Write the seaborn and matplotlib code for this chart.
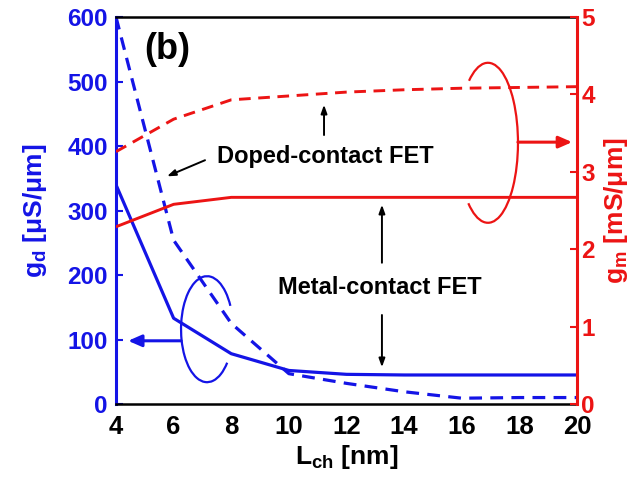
import numpy as np
import pandas as pd
import seaborn as sns
import matplotlib
matplotlib.use("Agg")
import matplotlib.pyplot as plt
from matplotlib.patches import Arc
import matplotlib.transforms as mtransforms

# Channel length [nm]
L_ch = [4, 6, 8, 10, 12, 14, 16, 18, 20]

# Output conductance g_d [uS/um]
gd_metal = [340, 133, 78, 52, 46, 45, 45, 45, 45]
gd_doped = [600, 254, 125, 47, 32, 19, 9, 10, 10]

# Transconductance g_m [mS/um]
gm_metal = [2.29, 2.58, 2.67, 2.67, 2.67, 2.67, 2.67, 2.67, 2.67]
gm_doped = [3.26, 3.68, 3.93, 3.98, 4.03, 4.06, 4.08, 4.09, 4.10]

x_ticks = [4, 6, 8, 10, 12, 14, 16, 18, 20]
gd_ticks = [0, 100, 200, 300, 400, 500, 600]
gm_ticks = [0, 1, 2, 3, 4, 5]

BLUE = "#1414e6"
RED = "#ec1414"

sns.set_style("white")
plt.rcParams["font.family"] = ["Liberation Sans", "DejaVu Sans"]
plt.rcParams["font.weight"] = "bold"
plt.rcParams["text.color"] = "black"
plt.rcParams["axes.labelcolor"] = "black"
plt.rcParams["mathtext.fontset"] = "custom"
plt.rcParams["mathtext.rm"] = "Liberation Sans:bold"
plt.rcParams["mathtext.bf"] = "Liberation Sans:bold"
plt.rcParams["mathtext.it"] = "Liberation Sans:bold"

df = pd.DataFrame({"L": L_ch, "gd_m": gd_metal, "gd_d": gd_doped,
                   "gm_m": gm_metal, "gm_d": gm_doped})

fig = plt.figure(figsize=(6.38, 4.78), dpi=100)
ax = fig.add_axes([0.1818, 0.1548, 0.7226, 0.8096])
ax2 = ax.twinx()

dash = (0, (4, 2.6))
sns.lineplot(data=df, x="L", y="gd_m", ax=ax, color=BLUE, lw=2.3)
sns.lineplot(data=df, x="L", y="gd_d", ax=ax, color=BLUE, lw=2.3, linestyle=dash)
sns.lineplot(data=df, x="L", y="gm_m", ax=ax2, color=RED, lw=2.1)
sns.lineplot(data=df, x="L", y="gm_d", ax=ax2, color=RED, lw=2.1, linestyle=dash)

ax.set_xlim(4, 20)
ax.set_ylim(0, 600)
ax2.set_ylim(0, 5)
ax.set_xticks(x_ticks)
ax.set_yticks(gd_ticks)
ax2.set_yticks(gm_ticks)

# spines
for a in (ax, ax2):
    for s in a.spines.values():
        s.set_linewidth(1.8)
ax.spines["left"].set_color(BLUE)
ax.spines["left"].set_linewidth(2.2)
ax.spines["top"].set_color("black")
ax.spines["bottom"].set_color("black")
ax.spines["right"].set_visible(False)
ax2.spines["left"].set_visible(False)
ax2.spines["top"].set_visible(False)
ax2.spines["bottom"].set_visible(False)
ax2.spines["right"].set_color(RED)
ax2.spines["right"].set_linewidth(2.2)

ax.tick_params(axis="x", direction="in", length=5, width=1.5, colors="black",
               labelsize=18.5, pad=8)
ax.tick_params(axis="y", direction="in", length=5, width=1.5, colors=BLUE,
               labelsize=17.5, pad=6)
ax2.tick_params(axis="y", direction="in", length=5, width=1.5, colors=RED,
                labelsize=17.5, pad=3)
for lab in ax.get_xticklabels() + ax.get_yticklabels() + ax2.get_yticklabels():
    lab.set_fontweight("bold")

ax.set_xlabel(r"$\mathbf{L_{ch}}$ [nm]", fontsize=19, fontweight="bold",
              color="black", labelpad=3)
ax.set_ylabel(r"$\mathbf{g_d}$ [μS/μm]", fontsize=19, fontweight="bold",
              color=BLUE, labelpad=13)
ax2.set_ylabel(r"$\mathbf{g_m}$ [mS/μm]", fontsize=19, fontweight="bold",
               color=RED, labelpad=5, rotation=90)

# panel tag
ax.text(5.77, 549, "(b)", fontsize=26, fontweight="bold", ha="center",
        va="center", color="black")

# curve annotations
ax.text(11.25, 383, "Doped-contact FET", fontsize=17, fontweight="bold",
        ha="center", va="center", color="black")
ax.text(13.16, 181, "Metal-contact FET", fontsize=17, fontweight="bold",
        ha="center", va="center", color="black")

thin = dict(arrowstyle="-|>,head_length=0.5,head_width=0.18", color="black",
            lw=1.4, shrinkA=0, shrinkB=0)
ax.annotate("", xy=(5.77, 353), xytext=(7.09, 378), arrowprops=thin)
ax.annotate("", xy=(11.22, 464), xytext=(11.22, 417), arrowprops=thin)
ax.annotate("", xy=(13.23, 309), xytext=(13.23, 219), arrowprops=thin)
ax.annotate("", xy=(13.23, 57), xytext=(13.23, 138), arrowprops=thin)

# axis-pointer arrows
ax.annotate("", xy=(4.42, 98), xytext=(6.26, 98),
            arrowprops=dict(arrowstyle="-|>,head_length=0.8,head_width=0.35",
                            color=BLUE, lw=2.2, shrinkA=0, shrinkB=0))
ax.annotate("", xy=(19.83, 406), xytext=(17.95, 406),
            arrowprops=dict(arrowstyle="-|>,head_length=0.8,head_width=0.35",
                            color=RED, lw=2.2, shrinkA=0, shrinkB=0))

# ellipses grouping each family of curves (sized in inches, centred in data units)
blue_tr = fig.dpi_scale_trans + mtransforms.ScaledTranslation(7.16, 116, ax.transData)
ax.add_patch(Arc((0, 0), 0.52, 1.06, theta1=45, theta2=301, transform=blue_tr,
                 color=BLUE, lw=1.6, clip_on=False))
red_tr = fig.dpi_scale_trans + mtransforms.ScaledTranslation(16.91, 405, ax.transData)
ax.add_patch(Arc((0, 0), 0.60, 1.60, theta1=-108, theta2=107, transform=red_tr,
                 color=RED, lw=1.6, clip_on=False))

fig.savefig("out.png", dpi=100)
